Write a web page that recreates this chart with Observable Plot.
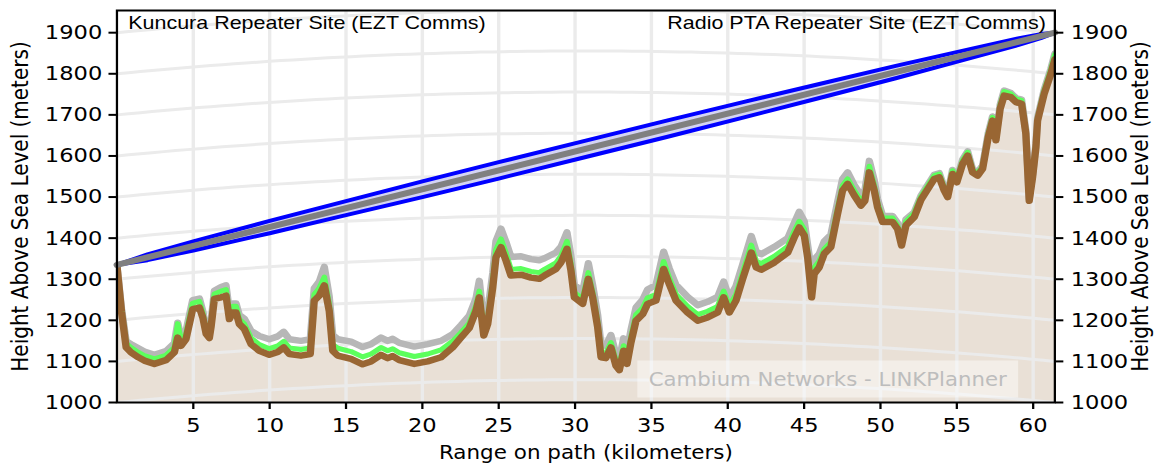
<!DOCTYPE html>
<html><head><meta charset="utf-8">
<script src="https://cdn.jsdelivr.net/npm/d3@7"></script>
<script src="https://cdn.jsdelivr.net/npm/@observablehq/plot@0.6"></script>
<style>html,body{margin:0;padding:0;background:#fff;} #chart{width:1156px;height:466px;overflow:hidden}</style>
</head><body><div id="chart"></div>
<script>
// ---- data (km along path, metres above sea level as displayed) ----
const rangeKm = [0,0.3,0.6,0.92,1.4,1.79,2.45,3.21,3.76,3.98,
4.2,4.52,4.96,5.4,5.62,5.84,6.05,6.16,6.38,6.82,
7.14,7.36,7.58,7.8,8.01,8.34,8.78,9.32,9.98,10.53,
10.92,11.29,12.05,12.66,12.92,13.25,13.58,13.9,14.13,14.46,
15.33,16.09,16.64,17.29,17.73,18.06,18.49,19.47,20.35,21.22,
21.98,22.53,23.07,23.51,23.73,24.02,24.28,24.61,24.82,25.15,
25.48,25.8,26.46,27.11,27.66,28.0,28.75,29.08,29.47,29.73,
29.95,30.5,30.87,31.15,31.48,31.7,32.02,32.35,32.68,32.9,
33.18,33.4,33.66,33.99,34.43,34.75,35.3,35.8,36.17,36.61,
37.37,38.03,38.68,39.34,39.73,40.1,40.54,40.97,41.54,41.86,
42.19,43.06,43.93,44.36,44.68,45.01,45.23,45.49,45.66,45.99,
46.32,46.75,47.19,47.52,47.85,48.28,48.72,48.98,49.27,49.59,
49.81,50.14,50.79,51.12,51.38,51.67,52.21,52.65,53.52,53.85,
54.17,54.4,54.72,55.0,55.38,55.71,56.03,56.36,56.69,57.06,
57.34,57.56,57.84,58.1,58.54,58.87,59.24,59.52,59.74,59.96,
60.18,60.29,60.72,61.16,61.42];
const terrainM = [1333,1220,1134,1122,1110,1102,1094,1103,1122,1158,
1138,1154,1227,1231,1207,1167,1157,1183,1252,1256,
1260,1203,1219,1219,1191,1179,1142,1126,1116,1123,
1134,1118,1114,1118,1248,1260,1285,1223,1126,1114,
1106,1093,1100,1116,1108,1113,1103,1094,1100,1110,
1134,1158,1181,1223,1256,1163,1191,1280,1353,1378,
1345,1309,1311,1304,1301,1309,1325,1341,1374,1321,
1256,1240,1301,1256,1183,1110,1108,1134,1089,1079,
1126,1094,1146,1199,1215,1240,1248,1325,1288,1248,
1219,1199,1207,1219,1256,1219,1248,1300,1365,1329,
1323,1341,1365,1402,1426,1406,1353,1256,1313,1329,
1362,1378,1459,1516,1532,1504,1479,1491,1560,1516,
1475,1439,1439,1422,1382,1431,1451,1493,1544,1548,
1516,1500,1556,1536,1581,1601,1560,1552,1569,1646,
1686,1638,1715,1747,1743,1731,1727,1654,1491,1548,
1621,1686,1751,1800,1835];
// clutter height above terrain (green) and obstruction margin above terrain (grey)
const clutterM = [0,5,10,12,12,12,12,12,12,34,
12,12,15,15,10,8,6,8,12,15,
15,12,15,15,12,12,15,15,15,15,
15,15,15,15,15,18,20,15,15,18,
18,18,18,18,18,18,18,18,18,18,
15,12,12,12,15,12,12,15,18,20,
18,15,15,15,15,15,15,15,18,15,
12,12,15,12,12,12,12,12,12,10,
12,12,12,15,15,15,15,18,15,15,
15,15,15,15,15,15,15,15,18,15,
15,15,15,15,15,15,12,20,15,15,
12,12,12,12,12,12,12,12,15,12,
10,10,10,8,8,10,10,8,8,8,
6,6,8,6,8,8,6,6,6,8,
8,6,8,10,8,8,8,6,4,4,
6,6,8,10,12];
const obstrM = [0,8,15,20,22,22,22,22,22,36,
20,20,22,22,15,12,10,12,20,25,
25,20,22,22,22,25,32,36,38,38,
38,36,36,36,30,34,45,35,38,40,
42,42,42,42,42,42,42,42,42,40,
32,30,30,30,40,30,30,35,40,45,
45,45,45,45,45,42,40,38,40,35,
30,30,38,30,30,30,30,30,28,25,
30,30,30,32,35,35,38,42,38,38,
38,38,38,38,38,35,35,35,40,38,
38,38,35,35,38,35,30,60,35,32,
30,30,28,28,28,25,25,25,28,25,
20,15,15,15,15,15,12,10,10,10,
8,8,10,8,10,10,8,8,8,10,
10,8,10,12,10,10,10,8,6,6,
8,8,10,12,14];
// link: antenna ends
const linkKm = [0, 61.42];
const linkM = [1335, 1900];
const siteNames = ["Kuncura Repeater Site (EZT Comms)", "Radio PTA Repeater Site (EZT Comms)"];
// Fresnel zone radius (m) along the path
const fresnelKm = [0,2,5,10,15,20,25,30.7,36,41,46,51,56,59,60.5,61.42];
const fresnelR  = [0,7,11,15,17,19,20,20,20,19,17,15,11,8,5,0];
const xTicks = [5,10,15,20,25,30,35,40,45,50,55,60];
const yTicks = [1000,1100,1200,1300,1400,1500,1600,1700,1800,1900];
const xLabel = "Range on path (kilometers)";
const yLabel = "Height Above Sea Level (meters)";
const watermark = "Cambium Networks - LINKPlanner";

// ---- derived tables ----
const terrain = rangeKm.map((x,i)=>({x, t: terrainM[i], green: terrainM[i]+clutterM[i], gray: terrainM[i]+obstrM[i]}));
const D = linkKm[1];
const los = x => linkM[0] + (linkM[1]-linkM[0])*(x-linkKm[0])/(linkKm[1]-linkKm[0]);
const fres = fresnelKm.map((x,i)=>({x, lo: los(x)-fresnelR[i], hi: los(x)+fresnelR[i]}));
const link = linkKm.map((x,i)=>({x, y: linkM[i]}));
// earth-curvature grid (k = 4/3)
const twoKR = 2*(4/3)*6371;
const bulge = x => x*(D-x)/twoKR*1000;
const gridPts = [];
for (const h of yTicks) for (let x=0; x<=D+0.001; x+=D/80) gridPts.push({h, x, y: h + bulge(x)});

const S = 1.13;               // horizontal stretch of the reference
const W = Math.round(1156/S);
const H = 466;
const ml = 103, mr = W - 933, mt = 10, mb = 64;

const plot = Plot.plot({
  width: W, height: H,
  marginLeft: ml, marginRight: mr, marginTop: mt, marginBottom: mb,
  style: {fontFamily: "DejaVu Sans", fontSize: "20px", background: "#fff", overflow: "visible"},
  x: {domain: [0, D]},
  y: {domain: [1000, 1954]},
  marks: [
    Plot.areaY(terrain, {x: "x", y1: 1000, y2: "t", fill: "#e9e0d6", clip: true}),
    Plot.ruleX(xTicks, {stroke: "#ebebeb", strokeWidth: 3}),
    Plot.line(gridPts, {x: "x", y: "y", z: "h", stroke: "#ebebeb", strokeWidth: 3, clip: true}),
    Plot.line(terrain, {x: "x", y: "gray", stroke: "#b7b7b7", strokeWidth: 6.5, strokeLinejoin: "round", clip: true}),
    Plot.line(terrain, {x: "x", y: "green", stroke: "#5cff5c", strokeWidth: 5, strokeLinejoin: "round", clip: true}),
    Plot.line(terrain, {x: "x", y: "t", stroke: "#996633", strokeWidth: 6.5, strokeLinejoin: "round", clip: true}),
    Plot.areaY(fres, {x: "x", y1: "lo", y2: "hi", fill: "#d4d4f4"}),
    Plot.line(fres, {x: "x", y: "hi", stroke: "#0000ff", strokeWidth: 4}),
    Plot.line(fres, {x: "x", y: "lo", stroke: "#0000ff", strokeWidth: 4}),
    Plot.line(link, {x: "x", y: "y", stroke: "#808080", strokeWidth: 6}),
    Plot.frame({stroke: "#000", strokeWidth: 2}),
    Plot.axisX({ticks: xTicks, tickSize: 7, tickPadding: 8, strokeWidth: 2, label: null, fontSize: 20}),
    Plot.axisY({anchor: "left", ticks: yTicks, tickSize: 7, tickPadding: 6, strokeWidth: 2, label: null, tickFormat: d => String(d), fontSize: 20}),
    Plot.axisY({anchor: "right", ticks: yTicks, tickSize: 7, tickPadding: 7, strokeWidth: 2, label: null, tickFormat: d => String(d), fontSize: 20}),
    Plot.text([yLabel], {text: d => d, frameAnchor: "left", rotate: -90, dx: -(ml - 18), fontSize: 20, fill: "#000", textAnchor: "middle", lineAnchor: "middle"}),
    Plot.text([yLabel], {text: d => d, frameAnchor: "right", rotate: -90, dx: 76, fontSize: 20, fill: "#000", textAnchor: "middle", lineAnchor: "middle"}),
    Plot.text([xLabel], {text: d => d, frameAnchor: "bottom", dy: 50, fontSize: 19, fill: "#000", lineAnchor: "middle"}),
    Plot.text([siteNames[0]], {text: d => d, frameAnchor: "top-left", dx: 10, dy: 12, textAnchor: "start", lineAnchor: "middle", fontFamily: "Liberation Sans", fontSize: 19, fill: "#000"}),
    Plot.text([siteNames[1]], {text: d => d, frameAnchor: "top-right", dx: -8, dy: 12, textAnchor: "end", lineAnchor: "middle", fontFamily: "Liberation Sans", fontSize: 19, fill: "#000"})
  ]
});

// watermark box (decoration, placed relative to the frame)
const svg = d3.select(plot);
const frameRight = W - mr, frameBottom = H - mb;
const bx1 = frameRight - 32, bx0 = frameRight - 32 - 337, by1 = frameBottom - 4.5, by0 = frameBottom - 41.5;
const wm = svg.append("g");
wm.append("rect").attr("x", bx0).attr("y", by0).attr("width", bx1-bx0).attr("height", by1-by0)
  .attr("fill", "#ffffff").attr("fill-opacity", 0.45);
wm.append("text").attr("x", (bx0+bx1)/2).attr("y", (by0+by1)/2).attr("text-anchor", "middle")
  .attr("dominant-baseline", "central").attr("font-family", "DejaVu Sans").attr("font-size", 18.8)
  .attr("fill", "#bdbdbd").text(watermark);

plot.setAttribute("viewBox", `0 0 ${W} ${H}`);
plot.setAttribute("width", 1156);
plot.setAttribute("height", H);
plot.setAttribute("preserveAspectRatio", "none");
plot.style.width = "1156px";
plot.style.height = H + "px";
plot.style.maxWidth = "none";
document.getElementById("chart").appendChild(plot);
</script>
</body></html>
